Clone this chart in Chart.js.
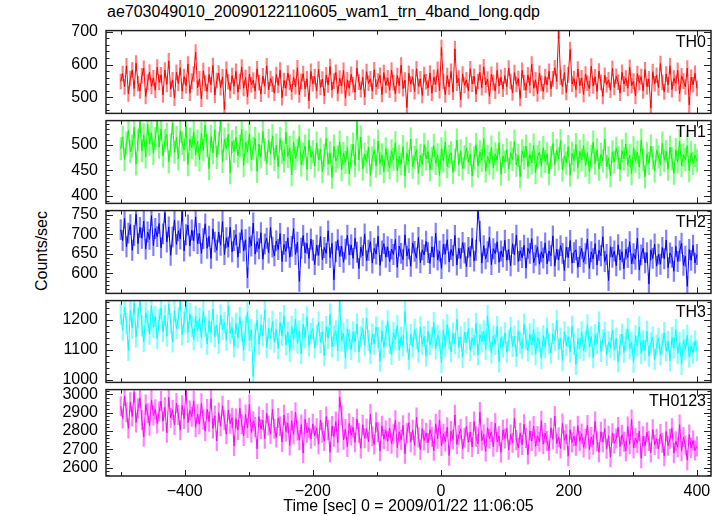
<!DOCTYPE html>
<html>
<head>
<meta charset="utf-8">
<script src="https://cdn.jsdelivr.net/npm/chart.js@4.4.0/dist/chart.umd.min.js"></script>
<style>
  html, body { margin: 0; padding: 0; background: #fff; }
  #wrap { position: relative; width: 723px; height: 516px; overflow: hidden; font-family: 'Liberation Sans', Arial, sans-serif; color: #000; }
  #wrap canvas { position: absolute; left: 0; }
  #title { position: absolute; left: 107px; top: 3px; font-size: 16px; white-space: nowrap; }
  #ytitle { position: absolute; left: 42px; top: 251px; font-size: 16px; white-space: nowrap;
            transform: translate(-50%, -50%) rotate(-90deg); }
</style>
</head>
<body>
<div id="wrap">
  <div id="title">ae703049010_20090122110605_wam1_trn_4band_long.qdp</div>
  <div id="ytitle">Counts/sec</div>
</div>
<script>
// 3 s bins starting at -500 s
const tStart = -500;
const binSize = 3;

const th0 = [
  548, 572, 531, 596, 510, 557, 583, 526, 604, 541, 519, 565, 588, 502, 546, 577, 533, 559, 521, 592,
  545, 568, 507, 583, 539, 611, 524, 553, 497, 576, 542, 590, 518, 563, 535, 601, 512, 549, 571, 638,
  528, 556, 494, 581, 543, 517, 569, 538, 597, 506, 551, 574, 529, 562, 462, 585, 547, 520, 566, 533,
  579, 515, 548, 592, 527, 560, 501, 571, 538, 552, 518, 587, 544, 509, 565, 533, 596, 522, 557, 540,
  512, 569, 536, 583, 498, 551, 527, 574, 545, 516, 561, 532, 590, 507, 548, 572, 525, 556, 488, 579,
  541, 563, 519, 586, 530, 555, 503, 568, 537, 594, 522, 549, 576, 511, 558, 534, 582, 497, 553, 527,
  570, 538, 515, 589, 546, 523, 561, 500, 578, 542, 556, 518, 584, 531, 549, 567, 508, 575, 536, 559,
  521, 583, 544, 510, 566, 535, 598, 526, 552, 468, 573, 540, 562, 517, 587, 533, 556, 505, 569, 547,
  528, 574, 512, 561, 539, 585, 520, 652, 548, 507, 566, 531, 579, 515, 648, 543, 558, 492, 571, 536,
  553, 519, 587, 540, 564, 509, 548, 576, 529, 593, 537, 555, 502, 570, 545, 518, 582, 534, 561, 524,
  566, 531, 589, 548, 513, 575, 539, 557, 496, 582, 544, 521, 568, 536, 601, 527, 553, 510, 574, 542,
  517, 563, 538, 579, 525, 556, 590, 548, 703, 561, 532, 575, 514, 568, 646, 540, 557, 523, 586, 535,
  559, 508, 571, 543, 526, 595, 534, 562, 517, 580, 545, 502, 567, 538, 553, 521, 588, 530, 564, 546,
  512, 576, 540, 558, 527, 591, 535, 549, 503, 572, 544, 563, 519, 584, 532, 556, 466, 578, 541, 567,
  528, 603, 545, 516, 571, 537, 596, 523, 558, 542, 582, 510, 565, 549, 531, 589, 476, 561, 538, 573,
  527
];
const th1 = [
  492, 515, 471, 503, 528, 486, 497, 534, 462, 509, 545, 488, 519, 476, 540, 501, 523, 483, 512, 547,
  495, 531, 478, 508, 520, 466, 499, 542, 485, 514, 472, 527, 503, 490, 536, 461, 511, 494, 525, 480,
  507, 470, 522, 489, 538, 498, 453, 516, 484, 529, 475, 503, 548, 467, 511, 492, 520, 445, 506, 487,
  514, 478, 497, 530, 459, 505, 486, 521, 470, 493, 512, 448, 501, 476, 526, 490, 463, 508, 482, 517,
  471, 499, 456, 512, 485, 468, 524, 477, 494, 441, 505, 473, 489, 516, 460, 482, 497, 452, 509, 475,
  486, 458, 503, 470, 491, 447, 479, 512, 462, 484, 436, 497, 468, 476, 505, 451, 483, 465, 494, 442,
  478, 501, 459, 545, 470, 515, 452, 481, 466, 495, 440, 474, 489, 458, 507, 463, 480, 447, 492, 469,
  455, 488, 471, 504, 449, 477, 462, 496, 438, 483, 467, 511, 456, 475, 490, 444, 479, 461, 500, 472,
  486, 451, 473, 498, 463, 480, 440, 492, 468, 505, 457, 477, 484, 446, 470, 509, 461, 488, 453, 476,
  493, 465, 481, 439, 474, 500, 458, 486, 469, 512, 448, 477, 463, 495, 455, 482, 470, 503, 442, 478,
  466, 490, 452, 484, 471, 507, 460, 479, 437, 488, 474, 497, 456, 481, 464, 499, 445, 476, 485, 458,
  494, 467, 482, 443, 475, 502, 461, 489, 472, 508, 450, 478, 464, 496, 440, 483, 469, 500, 455, 487,
  470, 498, 459, 484, 446, 477, 505, 463, 490, 452, 481, 468, 511, 457, 474, 439, 486, 466, 493, 475,
  451, 488, 472, 501, 460, 479, 443, 494, 467, 485, 456, 509, 470, 437, 482, 463, 497, 474, 448, 489,
  476, 461, 503, 469, 487, 452, 495, 472, 444, 490, 466, 507, 459, 480, 471, 498, 449, 484, 463, 479,
  468
];
const th2 = [
  712, 684, 741, 668, 703, 725, 659, 697, 752, 676, 718, 690, 734, 662, 706, 687, 748, 671, 715, 694,
  728, 665, 701, 756, 680, 719, 646, 693, 737, 674, 709, 688, 762, 657, 699, 724, 670, 711, 683, 745,
  676, 702, 651, 689, 727, 664, 695, 638, 714, 680, 659, 706, 672, 733, 648, 691, 667, 718, 655, 684,
  699, 641, 678, 712, 657, 686, 588, 693, 670, 729, 649, 681, 663, 704, 636, 675, 690, 652, 718, 667,
  645, 683, 661, 702, 630, 674, 656, 691, 641, 669, 715, 648, 680, 579, 664, 697, 652, 677, 638, 688,
  659, 622, 672, 646, 694, 635, 666, 651, 709, 640, 677, 583, 655, 686, 643, 670, 628, 662, 698, 647,
  673, 638, 690, 654, 612, 667, 645, 701, 632, 659, 681, 626, 664, 649, 695, 620, 657, 676, 641, 668,
  630, 662, 648, 687, 615, 670, 651, 635, 699, 644, 663, 618, 678, 656, 639, 692, 627, 660, 647, 682,
  653, 625, 668, 641, 703, 634, 657, 612, 674, 649, 686, 629, 661, 645, 697, 621, 664, 638, 679, 652,
  617, 666, 643, 690, 631, 659, 765, 708, 626, 671, 637, 655, 693, 622, 663, 650, 681, 628, 657, 642,
  685, 633, 661, 619, 676, 647, 698, 630, 658, 640, 672, 613, 664, 651, 689, 627, 646, 668, 623, 655,
  639, 678, 624, 657, 645, 696, 618, 662, 634, 671, 651, 607, 667, 640, 684, 626, 653, 660, 615, 643,
  664, 628, 650, 688, 612, 655, 637, 676, 621, 659, 645, 694, 630, 648, 581, 668, 641, 657, 619, 673,
  634, 655, 611, 662, 640, 681, 624, 650, 636, 690, 608, 647, 664, 627, 653, 572, 660, 638, 675, 618,
  649, 623, 666, 637, 685, 614, 652, 641, 605, 669, 630, 657, 677, 620, 644, 566, 661, 633, 672, 626,
  648
];
const th3 = [
  1218, 1165, 1241, 1187, 1098, 1230, 1172, 1255, 1143, 1206, 1264, 1180, 1127, 1223, 1196, 1152, 1247, 1175, 1210, 1136,
  1199, 1238, 1161, 1214, 1145, 1252, 1188, 1126, 1229, 1170, 1205, 1262, 1149, 1193, 1267, 1158, 1220, 1177, 1134, 1211,
  1162, 1203, 1140, 1227, 1178, 1119, 1196, 1158, 1235, 1143, 1182, 1121, 1215, 1167, 1190, 1132, 1246, 1155, 1174, 1110,
  1188, 1139, 1207, 1161, 1098, 1176, 1224, 1130, 1167, 1012, 1152, 1199, 1118, 1183, 1145, 1232, 1107, 1171, 1136, 1194,
  1125, 1168, 1104, 1190, 1147, 1213, 1116, 1159, 1095, 1178, 1134, 1201, 1122, 1163, 1087, 1185, 1141, 1209, 1113, 1154,
  1170, 1106, 1149, 1192, 1124, 1160, 1081, 1177, 1138, 1218, 1110, 1146, 1163, 1097, 1262, 1129, 1155, 1072, 1168, 1135,
  1101, 1159, 1127, 1186, 1093, 1143, 1170, 1115, 1204, 1132, 1088, 1152, 1119, 1175, 1140, 1062, 1163, 1108, 1147, 1196,
  1121, 1085, 1157, 1133, 1180, 1099, 1142, 1114, 1227, 1126, 1068, 1151, 1109, 1168, 1137, 1092, 1175, 1118, 1144, 1080,
  1161, 1117, 1139, 1190, 1103, 1148, 1129, 1057, 1166, 1112, 1183, 1136, 1094, 1155, 1120, 1201, 1107, 1143, 1075, 1158,
  1124, 1170, 1098, 1139, 1115, 1188, 1083, 1150, 1127, 1162, 1101, 1213, 1134, 1090, 1146, 1118, 1177, 1060, 1141, 1109,
  1156, 1092, 1131, 1174, 1111, 1145, 1078, 1163, 1122, 1104, 1185, 1135, 1096, 1152, 1116, 1168, 1084, 1140, 1125, 1071,
  1147, 1108, 1172, 1120, 1089, 1154, 1130, 1197, 1102, 1138, 1065, 1159, 1114, 1143, 1093, 1178, 1119, 1052, 1136, 1105,
  1160, 1097, 1128, 1183, 1110, 1144, 1074, 1150, 1121, 1192, 1095, 1133, 1158, 1082, 1126, 1107, 1165, 1100, 1139, 1061,
  1117, 1152, 1091, 1134, 1170, 1103, 1125, 1058, 1146, 1112, 1176, 1087, 1130, 1099, 1161, 1079, 1123, 1142, 1068, 1115,
  1138, 1083, 1119, 1157, 1096, 1127, 1064, 1141, 1106, 1167, 1088, 1124, 1052, 1132, 1101, 1148, 1076, 1113, 1090, 1129,
  1097
];
const th0123 = [
  2935, 2868, 2991, 2902, 2814, 2957, 2879, 3012, 2846, 2923, 2981, 2860, 2768, 2944, 2897, 2829, 2970, 2885, 2918, 2841,
  2906, 2963, 2852, 2929, 2790, 2984, 2871, 2915, 2833, 2952, 2887, 2804, 2940, 2866, 3021, 2845, 2912, 2878, 2965, 2820,
  2893, 2837, 2951, 2862, 2798, 2920, 2851, 2976, 2813, 2884, 2745, 2901, 2826, 2938, 2859, 2782, 2915, 2840, 2872, 2718,
  2868, 2805, 2924, 2837, 2773, 2890, 2816, 2945, 2791, 2853, 2822, 2702, 2879, 2809, 2860, 2758, 2897, 2830, 2784, 2918,
  2812, 2765, 2871, 2826, 2740, 2888, 2797, 2843, 2721, 2856, 2781, 2902, 2803, 2750, 2835, 2679, 2864, 2790, 2818, 2757,
  2839, 2774, 2815, 2728, 2860, 2792, 2746, 2879, 2805, 2683, 2827, 2769, 2851, 2736, 2985, 2884, 2752, 2810, 2713, 2842,
  2776, 2821, 2738, 2866, 2789, 2705, 2834, 2760, 2812, 2741, 2893, 2771, 2726, 2847, 2793, 2690, 2828, 2755, 2803, 2744,
  2817, 2731, 2782, 2858, 2709, 2796, 2752, 2831, 2676, 2788, 2845, 2739, 2806, 2721, 2874, 2765, 2698, 2812, 2748, 2790,
  2734, 2807, 2768, 2692, 2839, 2757, 2861, 2718, 2785, 2742, 2820, 2665, 2799, 2753, 2888, 2727, 2776, 2810, 2701, 2763,
  2825, 2738, 2794, 2712, 2852, 2769, 2729, 2903, 2747, 2781, 2688, 2818, 2757, 2795, 2714, 2843, 2740, 2772, 2683, 2806,
  2759, 2814, 2697, 2780, 2736, 2869, 2750, 2708, 2790, 2724, 2837, 2762, 2671, 2801, 2745, 2827, 2716, 2773, 2741, 2856,
  2728, 2789, 2745, 2693, 2818, 2754, 2882, 2731, 2766, 2705, 2841, 2749, 2782, 2662, 2807, 2737, 2771, 2720, 2829, 2744,
  2786, 2710, 2758, 2832, 2699, 2767, 2725, 2851, 2743, 2684, 2796, 2739, 2813, 2703, 2774, 2657, 2788, 2732, 2759, 2821,
  2715, 2779, 2741, 2690, 2824, 2727, 2863, 2706, 2762, 2734, 2800, 2651, 2771, 2718, 2793, 2746, 2682, 2809, 2724, 2757,
  2701, 2783, 2736, 2662, 2797, 2719, 2758, 2815, 2679, 2744, 2711, 2835, 2690, 2767, 2722, 2640, 2781, 2707, 2748, 2693,
  2716
];

const panelNames = ['TH0', 'TH1', 'TH2', 'TH3', 'TH0123'];
const series = [th0, th1, th2, th3, th0123];
const errBars = [23, 22, 26, 34, 53];           // typical 1-sigma half length
const yRanges = [[450, 704], [385, 547], [548, 761], [992, 1263], [2554, 3026]];
const yTicks = [[500, 600, 700], [400, 450, 500], [600, 650, 700, 750], [1000, 1100, 1200], [2600, 2700, 2800, 2900, 3000]];
const yMinor = [20, 10, 10, 20, 20];
const xTicks = [-400, -200, 0, 200, 400];
const xRange = [-523, 422];

const lineColors = ['#ff0000', '#00ff00', '#0000ff', '#00ffff', '#ff00ff'];
const errColors = ['rgba(255,0,0,0.5)', 'rgba(0,255,0,0.5)', 'rgba(0,0,255,0.5)', 'rgba(0,255,255,0.5)', 'rgba(255,0,255,0.5)'];

const times = th0.map((_, i) => tStart + i * binSize);

const panelTop = [27, 117, 207, 297, 386];
const panelBottom = 476;
const pad = 14;
const font = { family: "'Liberation Sans', Arial, sans-serif", size: 16 };

// qdp style frame with inward ticks and panel label
const qdpFrame = {
  id: 'qdpFrame',
  afterDraw(chart, args, opts) {
    const { ctx, chartArea: a, scales: { x, y } } = chart;
    const seg = (x1, y1, x2, y2) => { ctx.beginPath(); ctx.moveTo(x1, y1); ctx.lineTo(x2, y2); ctx.stroke(); };
    ctx.save();
    ctx.strokeStyle = '#222';
    ctx.lineWidth = 1;
    const first = Math.ceil(y.min / opts.minor) * opts.minor;
    for (let v = first; v <= y.max; v += opts.minor) {
      const py = Math.round(y.getPixelForValue(v)) + 0.5;
      const len = opts.major.includes(v) ? 7 : 3.5;
      seg(a.left, py, a.left + len, py);
      seg(a.right, py, a.right - len, py);
    }
    for (let v = -500; v <= 400; v += 100) {
      const px = Math.round(x.getPixelForValue(v)) + 0.5;
      const len = v % 200 === 0 ? 6 : 4;
      seg(px, a.top, px, a.top + len);
      seg(px, a.bottom, px, a.bottom - len);
    }
    ctx.lineWidth = 1.5;
    ctx.strokeRect(a.left, a.top, a.right - a.left, a.bottom - a.top);
    ctx.fillStyle = '#000';
    ctx.font = "16px 'Liberation Sans', Arial, sans-serif";
    ctx.textAlign = 'right';
    ctx.textBaseline = 'top';
    ctx.fillText(opts.label, a.right - 5, a.top + 4);
    ctx.restore();
  }
};

const wrap = document.getElementById('wrap');

series.forEach((vals, i) => {
  const isLast = i === series.length - 1;
  const top = panelTop[i] - pad;
  const bottom = isLast ? 516 : (i < 4 ? panelTop[i + 1] : panelBottom) + pad;
  const canvas = document.createElement('canvas');
  canvas.width = 723;
  canvas.height = bottom - top;
  canvas.style.top = top + 'px';
  wrap.appendChild(canvas);

  const e = errBars[i];
  new Chart(canvas, {
    type: 'line',
    data: {
      datasets: [
        {
          type: 'line',
          data: times.map((t, k) => ({ x: t, y: vals[k] })),
          borderColor: lineColors[i],
          borderWidth: 1,
          pointRadius: 0,
          tension: 0,
          clip: 0,
          order: 0
        },
        {
          type: 'bar',
          data: times.map((t, k) => ({ x: t, y: [vals[k] - e, vals[k] + e] })),
          backgroundColor: errColors[i],
          barThickness: 1.5,
          clip: 0,
          order: 1
        }
      ]
    },
    options: {
      responsive: false,
      maintainAspectRatio: false,
      animation: false,
      events: [],
      layout: { padding: { top: pad, bottom: isLast ? 0 : pad, left: 0, right: 12 } },
      plugins: {
        legend: { display: false },
        tooltip: { enabled: false },
        qdpFrame: { label: panelNames[i], minor: yMinor[i], major: yTicks[i] }
      },
      scales: {
        x: {
          type: 'linear',
          min: xRange[0],
          max: xRange[1],
          offset: false,
          display: isLast,
          grid: { display: false, drawTicks: false },
          border: { display: false },
          afterBuildTicks: s => { s.ticks = xTicks.map(v => ({ value: v })); },
          afterFit: s => { if (isLast) s.height = 40; },
          ticks: {
            font, color: '#000', padding: 6, maxRotation: 0, autoSkip: false,
            callback: v => String(v).replace('-', '\u2212')
          },
          title: {
            display: true,
            text: 'Time [sec] 0 = 2009/01/22 11:06:05',
            font, color: '#000',
            padding: { top: 0, bottom: 0 }
          }
        },
        y: {
          min: yRanges[i][0],
          max: yRanges[i][1],
          grid: { display: false, drawTicks: false },
          border: { display: false },
          afterBuildTicks: s => { s.ticks = yTicks[i].map(v => ({ value: v })); },
          afterFit: s => { s.width = 106; },
          ticks: { font, color: '#000', padding: 8, autoSkip: false, callback: v => String(v) }
        }
      }
    },
    plugins: [qdpFrame]
  });
});
</script>
</body>
</html>
